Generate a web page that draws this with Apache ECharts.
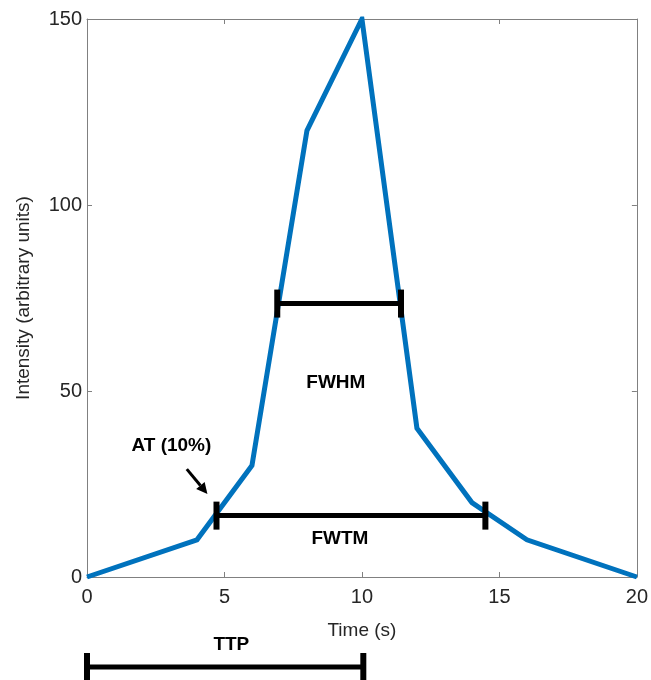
<!DOCTYPE html>
<html>
<head>
<meta charset="utf-8">
<script src="https://cdn.jsdelivr.net/npm/echarts@6/dist/echarts.min.js"></script>
<style>
  html, body { margin: 0; padding: 0; background: #fff; overflow: hidden; }
  #root { width: 651px; height: 680px; }
</style>
</head>
<body>
<div id="root"></div>
<script>
// curve samples (time s, intensity)
var timePts = [0, 4, 6, 8, 10, 12, 14, 16, 20];
var intensityPts = [0, 10, 30, 120, 150, 40, 20, 10, 0];

var xTicks = [0, 5, 10, 15, 20];
var yTicks = [0, 50, 100, 150];

// measurement bars: [start, end, level]
var barNames = ["FWHM", "FWTM", "TTP"];
var barStart = [6.92, 4.71, 0];
var barEnd = [11.42, 14.49, 10.05];
var barLevel = [73.5, 16.5, -24.2];

// annotation text anchors (data coords)
var noteText = ["FWHM", "FWTM", "AT (10%)", "TTP"];
var noteX = [9.05, 9.2, 3.07, 5.25];
var noteY = [52.2, 10.2, 35.3, -18.3];

// arrow pointing at arrival time
var arrowFrom = [3.63, 29.0];
var arrowTo = [4.38, 22.3];

var FONT = "'Liberation Sans', Arial, sans-serif";
var AX = "#262626";
var BOX = "#808080";

var chart = echarts.init(document.getElementById("root"));

var lineData = timePts.map(function (t, i) { return [t, intensityPts[i]]; });
var barData = barNames.map(function (n, i) { return [barStart[i], barEnd[i], barLevel[i]]; });
var noteData = noteText.map(function (n, i) { return [noteX[i], noteY[i], n]; });

function boxAxis(pos, isX) {
  return {
    type: "value", position: pos, min: 0, max: isX ? 20 : 150,
    interval: isX ? 5 : 50,
    axisLine: { show: true, onZero: false, lineStyle: { color: BOX, width: 1 } },
    axisTick: { show: true, inside: true, length: 5, lineStyle: { color: BOX } },
    axisLabel: { show: false },
    splitLine: { show: false }
  };
}

var xMain = boxAxis("bottom", true);
xMain.axisLabel = { show: true, color: AX, fontSize: 20, fontFamily: FONT, margin: 10 };
xMain.name = "Time (s)";
xMain.nameLocation = "middle";
xMain.nameGap = 44;
xMain.nameTextStyle = { color: AX, fontSize: 19, fontFamily: FONT };

var yMain = boxAxis("left", false);
yMain.axisLabel = { show: true, color: AX, fontSize: 20, fontFamily: FONT, margin: 5 };
yMain.name = "Intensity (arbitrary units)";
yMain.nameLocation = "middle";
yMain.nameGap = 54;
yMain.nameTextStyle = { color: AX, fontSize: 19, fontFamily: FONT };

var option = {
  animation: false,
  backgroundColor: "#fff",
  grid: { left: 87, right: 6, top: 19, bottom: 103, containLabel: false },
  xAxis: [xMain, boxAxis("top", true)],
  yAxis: [yMain, boxAxis("right", false)],
  series: [
    {
      type: "line",
      data: lineData,
      showSymbol: false,
      symbol: "none",
      lineStyle: { color: "#0072BD", width: 5, join: "miter" },
      z: 3
    },
    {
      type: "custom",
      clip: false,
      data: barData,
      encode: { x: [0, 1], y: 2 },
      z: 4,
      renderItem: function (params, api) {
        var p1 = api.coord([api.value(0), api.value(2)]);
        var p2 = api.coord([api.value(1), api.value(2)]);
        var h = 14;
        var st = { stroke: "#000", lineWidth: 5 };
        var cap = { stroke: "#000", lineWidth: 6 };
        return {
          type: "group",
          children: [
            { type: "line", shape: { x1: p1[0], y1: p1[1], x2: p2[0], y2: p2[1] }, style: st },
            { type: "line", shape: { x1: p1[0], y1: p1[1] - h, x2: p1[0], y2: p1[1] + h }, style: cap },
            { type: "line", shape: { x1: p2[0], y1: p2[1] - h, x2: p2[0], y2: p2[1] + h }, style: cap }
          ]
        };
      }
    },
    {
      type: "custom",
      clip: false,
      data: noteData,
      encode: { x: 0, y: 1 },
      z: 5,
      renderItem: function (params, api) {
        var p = api.coord([api.value(0), api.value(1)]);
        return {
          type: "text",
          x: p[0], y: p[1],
          style: {
            text: noteText[params.dataIndex],
            fill: "#000",
            font: "bold 19px " + FONT,
            align: "center",
            verticalAlign: "middle"
          }
        };
      }
    },
    {
      type: "custom",
      clip: false,
      data: [[arrowFrom[0], arrowFrom[1], arrowTo[0], arrowTo[1]]],
      encode: { x: [0, 2], y: [1, 3] },
      z: 5,
      renderItem: function (params, api) {
        var a = api.coord([api.value(0), api.value(1)]);
        var b = api.coord([api.value(2), api.value(3)]);
        var ang = Math.atan2(b[1] - a[1], b[0] - a[0]);
        var len = 11, wid = 5.5;
        var bx = b[0] - len * Math.cos(ang), by = b[1] - len * Math.sin(ang);
        var nx = -Math.sin(ang) * wid, ny = Math.cos(ang) * wid;
        return {
          type: "group",
          children: [
            { type: "line", shape: { x1: a[0], y1: a[1], x2: bx, y2: by }, style: { stroke: "#000", lineWidth: 3 } },
            { type: "polygon", shape: { points: [[b[0], b[1]], [bx + nx, by + ny], [bx - nx, by - ny]] }, style: { fill: "#000" } }
          ]
        };
      }
    }
  ]
};

chart.setOption(option);
</script>
</body>
</html>
